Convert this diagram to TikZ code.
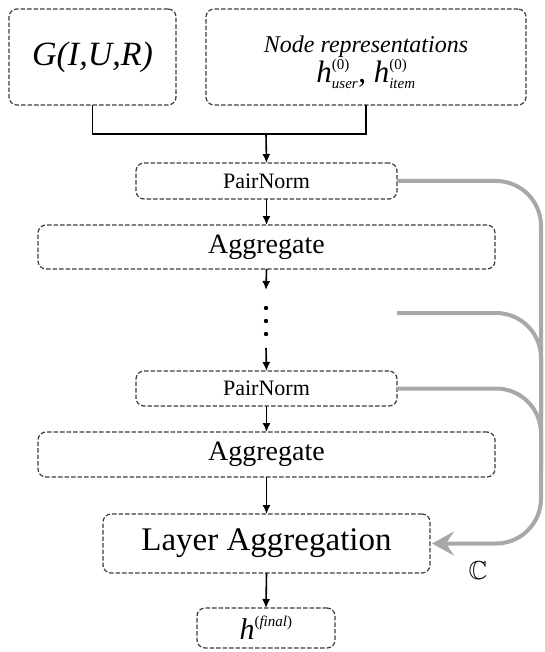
\documentclass[tikz,border=0pt]{standalone}
\usepackage{amsmath,amssymb}
\usepackage{fontspec}
\setmainfont{Liberation Serif}
\usetikzlibrary{arrows.meta}
\definecolor{boxline}{RGB}{60,60,60}
\definecolor{skipgray}{RGB}{168,168,168}
\newcommand{\scr}[1]{\text{\fontsize{15}{16}\selectfont #1}}
\tikzset{
  box/.style={
    draw=boxline,
    line width=1.2pt,
    dash pattern=on 4.5pt off 2pt,
    rounded corners=8pt,
    inner sep=0pt,
    outer sep=0pt,
    align=center
  },
  flow/.style={
    draw=black,
    line width=1.6pt,
    -{Latex[length=9pt,width=8pt]}
  },
  skip/.style={
    draw=skipgray,
    line width=4pt,
    rounded corners=45pt
  }
}
\begin{document}
\begin{tikzpicture}[x=1pt,y=-1pt]
    \useasboundingbox (0,0) rectangle (544,652);
    % inputs
    \node[box,minimum width=167,minimum height=96,font=\fontsize{34}{40}\selectfont\itshape] (gbox) at (92.5,57) {G(I,U,R)};
    \node[box,minimum width=320,minimum height=96,font=\fontsize{24}{34}\selectfont] (repbox) at (366,57)
      {\rule{0pt}{28pt}\textit{Node representations}\\[-4pt]
       {\fontsize{31}{34}\selectfont$\textit{h}^{\scr{(0)}}_{\scr{\itshape user}}\text{, }\textit{h}^{\scr{(0)}}_{\scr{\itshape item}}$}};
    \coordinate (join) at (266,134);
    % layers
    \node[box,minimum width=261,minimum height=36,font=\fontsize{22}{26}\selectfont] (pn1) at (266.5,181) {PairNorm};
    \node[box,minimum width=457,minimum height=44,font=\fontsize{28}{32}\selectfont] (agg1) at (266.5,247) {Aggregate};
    \coordinate (gap1) at (266,290);
    \coordinate (gap2) at (266,348);
    \node[box,minimum width=261,minimum height=35,font=\fontsize{22}{26}\selectfont] (pn2) at (266.5,388.5) {PairNorm};
    \node[box,minimum width=457,minimum height=45,font=\fontsize{28}{32}\selectfont] (agg2) at (266.5,454.5) {Aggregate};
    \node[box,minimum width=327,minimum height=59,font=\fontsize{33}{38}\selectfont] (la) at (266.5,543.5) {Layer Aggregation};
    \node[box,minimum width=138,minimum height=40,font=\fontsize{30}{34}\selectfont] (hf) at (266,628)
      {$\textit{h}^{\scr{(\itshape final\/\upshape)}}$};
    \node[font=\fontsize{26}{30}\selectfont] (concat) at (478,571) {$\mathbb{C}$};
    \coordinate (mid) at (397,313);
    % dots
    \foreach \y in {308,321,334}
      \fill (266,\y) circle (2.2);
    % connectors
    \draw[line width=1.6pt] (gbox.south) |- (join) -| (repbox.south);
    \draw[flow] (join) -- (pn1.north);
    \draw[flow] (pn1.south) -- (agg1.north);
    \draw[flow] (agg1.south) -- (gap1);
    \draw[flow] (gap2) -- (pn2.north);
    \draw[flow] (pn2.south) -- (agg2.north);
    \draw[flow] (agg2.south) -- (la.north);
    \draw[flow] (la.south) -- (hf.north);
    % skip connections
    \draw[skip] (mid) -- (541,313) -- (541,420);
    \draw[skip] (pn2.east) -- (541,388.5) -- (541,470);
    \draw[skip,-{Stealth[length=22pt,width=24pt,inset=8pt]}] (pn1.east) -- (541,181) -- (541,543.5) -- ([xshift=2pt]la.east);
\end{tikzpicture}
\end{document}
